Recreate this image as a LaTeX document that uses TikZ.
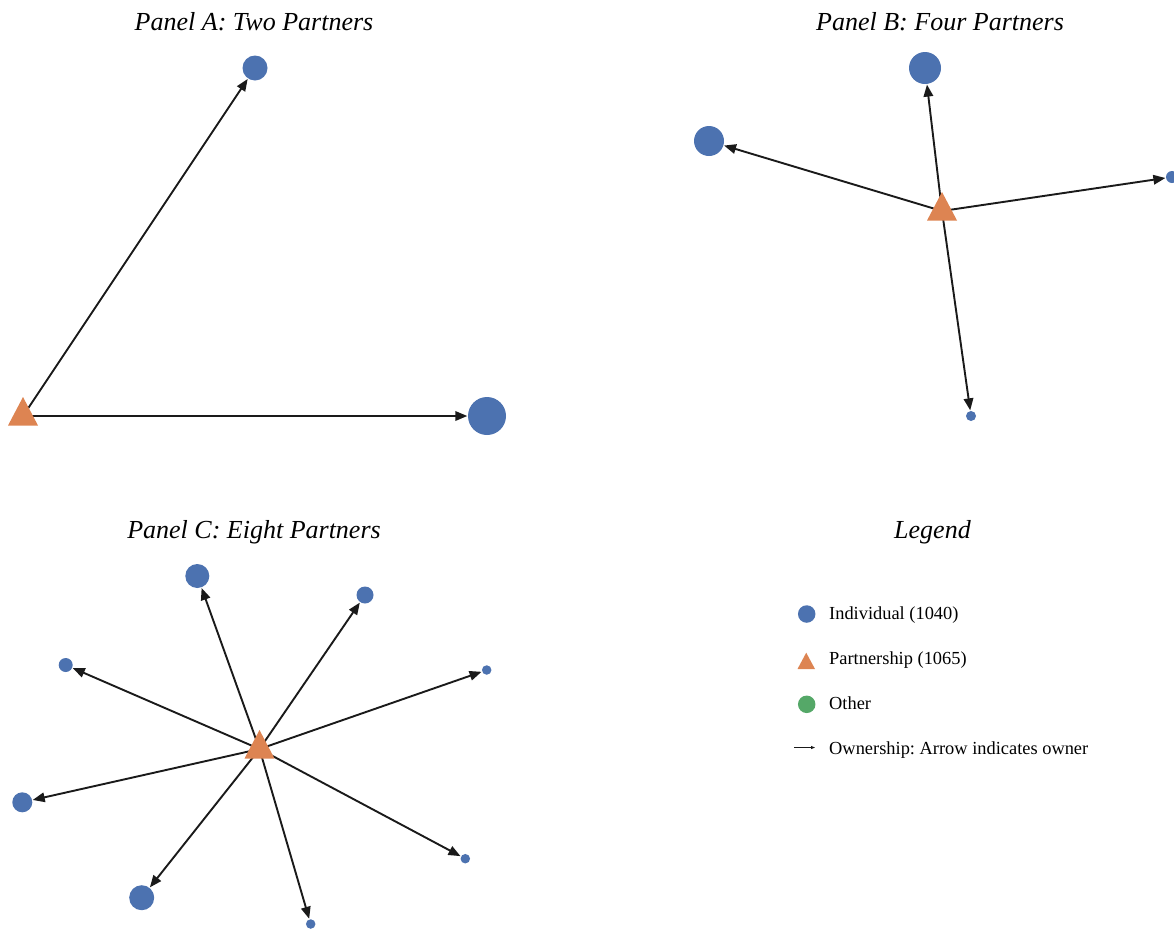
\documentclass[tikz,border=0pt]{standalone}
\usepackage{fontspec}
\setmainfont{Liberation Serif}
\usetikzlibrary{arrows.meta,calc}
\frenchspacing
\pgfdeclarelayer{background}
\pgfsetlayers{background,main}
\definecolor{indblue}{HTML}{4C72B0}
\definecolor{partorange}{HTML}{DD8452}
\definecolor{othgreen}{HTML}{55A868}
\definecolor{edgecol}{HTML}{1A1A1A}
\tikzset{
  ind/.style={circle, fill=indblue, draw=none, inner sep=0pt},
  tri/.pic={\fill[partorange] (0,-19) -- (15,9.5) -- (-15,9.5) -- cycle;},
  own/.style={draw=edgecol, line width=1.9pt, -{Triangle[length=12pt,width=9.5pt]}, shorten >=0.5pt},
  ptitle/.style={font=\fontsize{26}{30}\selectfont\itshape, anchor=base, inner sep=0pt},
  legtext/.style={font=\fontsize{18.4}{22}\selectfont, anchor=base west, inner sep=0pt},
}
\begin{document}
\begin{tikzpicture}[x=1pt,y=-1pt]
\useasboundingbox (0,0) rectangle (1174,930);
% ---------- Panel A
\node[ptitle] (ta) at (254,30) {Panel A: Two Partners};
\coordinate (pa) at (23,416);
\node[ind, minimum size=25pt] (a1) at (255,68) {};
\node[ind, minimum size=38pt] (a2) at (487,416) {};
\begin{pgfonlayer}{background}
\draw[own] (pa) -- (a1);
\draw[own] (pa) -- (a2);
\end{pgfonlayer}
\pic at (pa) {tri};
% ---------- Panel B
\node[ptitle] (tb) at (940,30) {Panel B: Four Partners};
\coordinate (pb) at (942,211);
\node[ind, minimum size=32pt] (b1) at (925,68) {};
\node[ind, minimum size=30pt] (b2) at (709,141) {};
\node[ind, minimum size=12pt] (b3) at (1172,177) {};
\node[ind, minimum size=10pt] (b4) at (971,416) {};
\begin{pgfonlayer}{background}
\foreach \n in {b1,b2,b3,b4} \draw[own] (pb) -- (\n);
\end{pgfonlayer}
\pic at (pb) {tri};
% ---------- Panel C
\node[ptitle] (tc) at (254,538) {Panel C: Eight Partners};
\coordinate (pc) at (259.5,749);
\node[ind, minimum size=24pt] (c1) at (197.3,576) {};
\node[ind, minimum size=17pt] (c2) at (365,595) {};
\node[ind, minimum size=14pt] (c3) at (65.7,665) {};
\node[ind, minimum size=9.5pt] (c4) at (486.7,670) {};
\node[ind, minimum size=20pt] (c5) at (22.3,802.3) {};
\node[ind, minimum size=25pt] (c6) at (141.7,897.7) {};
\node[ind, minimum size=9.5pt] (c7) at (310.7,924) {};
\node[ind, minimum size=9.5pt] (c8) at (465.3,858.7) {};
\begin{pgfonlayer}{background}
\foreach \n in {c1,c2,c3,c4,c5,c6,c7,c8} \draw[own] (pc) -- (\n);
\end{pgfonlayer}
\pic at (pc) {tri};
% ---------- Legend
\node[ptitle] (tl) at (932.5,538) {Legend};
\node[ind, minimum size=17.5pt] (l1) at (806.7,614) {};
\node[legtext] (l1t) at (829,619.3) {Individual (1040)};
\fill[partorange] (806.2,652.7) -- (815,669) -- (797.5,669) -- cycle;
\coordinate (l2) at (806.2,663);
\node[legtext] (l2t) at (829,664.3) {Partnership (1065)};
\node[circle, fill=othgreen, inner sep=0pt, minimum size=17.5pt] (l3) at (806.7,704.3) {};
\node[legtext] (l3t) at (829,709.3) {Other};
\coordinate (l4a) at (794,747.5);
\coordinate (l4b) at (815,747.5);
\draw[draw=edgecol, line width=0.8pt, -{Triangle[length=4pt,width=3pt]}] (l4a) -- (l4b);
\node[legtext] (l4t) at (829,754.3) {Ownership: Arrow indicates owner};
\end{tikzpicture}
\end{document}
